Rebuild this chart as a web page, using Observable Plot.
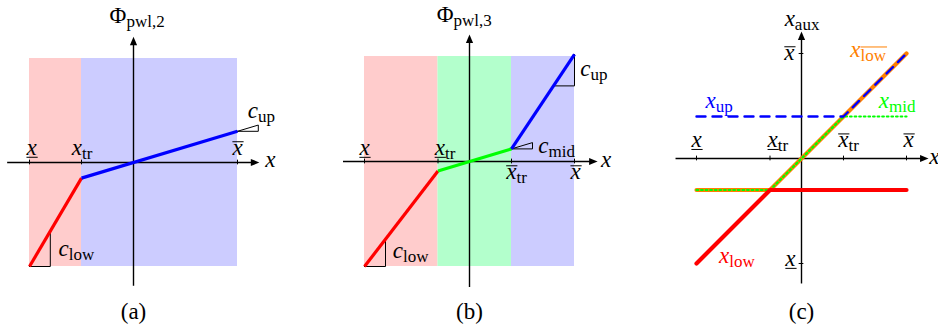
<!DOCTYPE html>
<html>
<head>
<meta charset="utf-8">
<script src="https://cdn.jsdelivr.net/npm/d3@7"></script>
<script src="https://cdn.jsdelivr.net/npm/@observablehq/plot@0.6"></script>
<style>
  body { margin: 0; background: #fff; overflow: hidden; }
  #fig { position: relative; width: 938px; height: 324px; }
  #fig svg { position: absolute; top: 0; overflow: visible; }
  #fig svg, #fig svg text, #fig svg tspan { font-family: "Liberation Serif", serif !important; }
</style>
</head>
<body>
<div id="fig"></div>
<script>
// ---------- data ----------
// (a) two-piece linearisation Φ_pwl,2: knots x̲, x_tr, x̄ and values there
const aKnots = [-2, -1, 2];
const aPhi = [-2, -0.3, 0.6];
const aColors = ["red", "blue"];
const aShade = ["#ffcccc", "#ccccff"];
const aTickLabels = ["x||under", "x|tr|", "x||over"];

// (b) three-piece linearisation Φ_pwl,3: knots x̲, x̲_tr, x̄_tr, x̄
const bKnots = [-2, -0.6, 0.8, 2];
const bPhi = [-2, -0.18, 0.24, 2.04];
const bColors = ["red", "#00ff00", "blue"];
const bShade = ["#ffcccc", "#b3ffcc", "#ccccff"];
const bTickLabels = ["x||under", "x|tr|under", "x|tr|over", "x||over"];

// (c) auxiliary variables evaluated at the knots of (b)
const cKnots = [-2, -0.6, 0.8, 2];
const cLow = [-2, -0.6, -0.6, -0.6];
const cLowBar = [-0.6, -0.6, 0.8, 2];
const cMid = [-0.6, -0.6, 0.8, 0.8];
const cUp = [0.8, 0.8, 0.8, 2];
const cTickLabels = ["x||under", "x|tr|under", "x|tr|over", "x||over"];
const cYTicks = [2, -2];
const cYTickLabels = ["x||over", "x||under"];

const box = [-2, 2]; // vertical extent of the shaded intervals
const run = 0.4;     // run of the slope triangles

// ---------- helpers ----------
const ns = "http://www.w3.org/2000/svg";
const FS = 23, SUB = 17;
const serif = "Liberation Serif";
const fig = document.getElementById("fig");

const headRight = {draw(c) { c.moveTo(0, 0); c.lineTo(-8.5, -3.6); c.lineTo(-8.5, 3.6); c.closePath(); }};
const headUp = {draw(c) { c.moveTo(0, 0); c.lineTo(-3.6, 8.5); c.lineTo(3.6, 8.5); c.closePath(); }};

const slope = (k, v, i) => (v[i + 1] - v[i]) / (k[i + 1] - k[i]);
const segments = (k, v, colors) => colors.map((c, i) => ({x1: k[i], y1: v[i], x2: k[i + 1], y2: v[i + 1], c}));
const shading = (k, colors) => colors.map((c, i) => ({x1: k[i], x2: k[i + 1], y1: box[0], y2: box[1], c}));
const triangle = (x0, y0, s, id) =>
  [[x0, y0], [x0 + run, y0], [x0 + run, y0 + run * s], [x0, y0]].map(([x, y]) => ({x, y, id}));
const series = (k, v) => k.map((x, i) => ({x, y: v[i]}));

function axes(xr, yr, u) {
  return [
    Plot.ruleY([0], {x1: xr[0], x2: xr[1] - 5 / u, stroke: "black", strokeWidth: 1.4}),
    Plot.ruleX([0], {y1: yr[0], y2: yr[1] - 5 / u, stroke: "black", strokeWidth: 1.4}),
    Plot.dot([0], {x: xr[1], y: 0, symbol: headRight, fill: "black", stroke: "none"}),
    Plot.dot([0], {x: 0, y: yr[1], symbol: headUp, fill: "black", stroke: "none"})
  ];
}
const xTicks = (k) => Plot.ruleX(k, {y1: -0.045, y2: 0.045, stroke: "black", strokeWidth: 1});
const labels = (rows) => Plot.text(rows, {x: "x", y: "y", text: "t", fill: "c", fontSize: FS, fontFamily: serif});

// "base|sub|deco" → italic base, upright subscript, under/overline
function typeset(svg) {
  svg.querySelectorAll("text").forEach((t) => {
    t.setAttribute("font-family", serif);
    const s = t.textContent;
    if (!s.includes("|")) return;
    const [base, sub, deco] = s.split("|");
    t.textContent = "";
    const tb = document.createElementNS(ns, "tspan");
    tb.textContent = base;
    tb.setAttribute("font-style", base === "Φ" ? "normal" : "italic");
    t.appendChild(tb);
    if (sub) {
      const ts = document.createElementNS(ns, "tspan");
      ts.textContent = sub;
      ts.setAttribute("font-style", "normal");
      ts.setAttribute("font-size", SUB);
      ts.setAttribute("dy", 4);
      t.appendChild(ts);
    }
    if (!deco) return;
    const n = base.length;
    const [i0, i1] = deco === "oversub" ? [n, n + sub.length - 1] : [0, n - 1];
    const p0 = t.getStartPositionOfChar(i0), p1 = t.getEndPositionOfChar(i1);
    const y = deco === "under" ? p0.y + 2.5 : deco === "over" ? p0.y - 0.48 * FS - 2 : p0.y - 0.7 * SUB - 2;
    const line = document.createElementNS(ns, "line");
    line.setAttribute("x1", p0.x);
    line.setAttribute("x2", p1.x + 1);
    line.setAttribute("y1", y);
    line.setAttribute("y2", y);
    line.setAttribute("stroke", getComputedStyle(t).fill);
    line.setAttribute("stroke-width", 1);
    const tr = t.getAttribute("transform");
    if (tr) line.setAttribute("transform", tr);
    t.parentNode.appendChild(line);
  });
}

function panel({left, width, cx, cy, u, marks}) {
  const svg = Plot.plot({
    width, height: 324, margin: 0,
    x: {domain: [-cx / u, (width - cx) / u], range: [0, width], axis: null},
    y: {domain: [cy / u, (cy - 324) / u], range: [0, 324], axis: null},
    color: {type: "identity"},
    style: {background: "transparent", overflow: "visible", fontFamily: serif},
    marks
  });
  svg.style.left = left + "px";
  fig.appendChild(svg);
  typeset(svg);
}

// ---------- (a) ----------
{
  const sLow = slope(aKnots, aPhi, 0), sUp = slope(aKnots, aPhi, 1);
  const tris = [...triangle(aKnots[0], aPhi[0], sLow, "low"), ...triangle(aKnots[2], aPhi[2], sUp, "up")];
  const tickY = 0.29;
  panel({
    left: 0, width: 310, cx: 133, cy: 162, u: 52,
    marks: [
      Plot.rect(shading(aKnots, aShade), {x1: "x1", x2: "x2", y1: "y1", y2: "y2", fill: "c"}),
      ...axes([-2.42, 2.42], [-2.38, 2.42], 52),
      xTicks(aKnots),
      Plot.line(tris, {x: "x", y: "y", z: "id", stroke: "black", strokeWidth: 1}),
      Plot.link(segments(aKnots, aPhi, aColors), {x1: "x1", y1: "y1", x2: "x2", y2: "y2", stroke: "c", strokeWidth: 3.2}),
      labels([
        {x: aKnots[0] + 0.04, y: tickY, t: aTickLabels[0], c: "black"},
        {x: aKnots[1] + 0.01, y: tickY, t: aTickLabels[1], c: "black"},
        {x: aKnots[2], y: tickY, t: aTickLabels[2], c: "black"},
        {x: 2.63, y: 0.05, t: "x||", c: "black"},
        {x: 0.07, y: 2.83, t: "Φ|pwl,2|", c: "black"},
        {x: 2.46, y: 1.0, t: "c|up|", c: "black"},
        {x: -1.1, y: -1.65, t: "c|low|", c: "black"},
        {x: 0, y: -2.875, t: "(a)", c: "black"}
      ])
    ]
  });
}

// ---------- (b) ----------
{
  const s = [0, 1, 2].map((i) => slope(bKnots, bPhi, i));
  const tris = [
    ...triangle(bKnots[0], bPhi[0], s[0], "low"),
    ...triangle(bKnots[2], bPhi[2], s[1], "mid"),
    ...triangle(bKnots[3] - run, bPhi[3] - run * s[2], s[2], "up")
  ];
  panel({
    left: 310, width: 310, cx: 159, cy: 161, u: 52.5,
    marks: [
      Plot.rect(shading(bKnots, bShade), {x1: "x1", x2: "x2", y1: "y1", y2: "y2", fill: "c"}),
      ...axes([-2.4, 2.44], [-2.4, 2.42], 52.5),
      xTicks(bKnots),
      Plot.line(tris, {x: "x", y: "y", z: "id", stroke: "black", strokeWidth: 1}),
      Plot.link(segments(bKnots, bPhi, bColors), {x1: "x1", y1: "y1", x2: "x2", y2: "y2", stroke: "c", strokeWidth: 3.2}),
      labels([
        {x: bKnots[0], y: 0.267, t: bTickLabels[0], c: "black"},
        {x: bKnots[1] + 0.133, y: 0.267, t: bTickLabels[1], c: "black"},
        {x: bKnots[2] + 0.095, y: -0.19, t: bTickLabels[2], c: "black"},
        {x: bKnots[3] + 0.02, y: -0.19, t: bTickLabels[3], c: "black"},
        {x: 2.6, y: 0.04, t: "x||", c: "black"},
        {x: -0.1, y: 2.8, t: "Φ|pwl,3|", c: "black"},
        {x: 1.66, y: 0.305, t: "c|mid|", c: "black"},
        {x: 2.37, y: 1.76, t: "c|up|", c: "black"},
        {x: -1.12, y: -1.705, t: "c|low|", c: "black"},
        {x: 0, y: -2.867, t: "(b)", c: "black"}
      ])
    ]
  });
}

// ---------- (c) ----------
{
  const tickY = 0.36;
  panel({
    left: 620, width: 318, cx: 181, cy: 158, u: 52.5,
    marks: [
      ...axes([-2.39, 2.42], [-2.39, 2.42], 52.5),
      xTicks(cKnots),
      Plot.ruleY(cYTicks, {x1: -0.045, x2: 0.045, stroke: "black", strokeWidth: 1}),
      Plot.line(series(cKnots, cLowBar), {x: "x", y: "y", stroke: "#ff8000", strokeWidth: 4.2}),
      Plot.line(series(cKnots, cMid), {x: "x", y: "y", stroke: "#00ff00", strokeWidth: 2.2, strokeDasharray: "1.6,3"}),
      Plot.line(series(cKnots, cLow), {x: "x", y: "y", stroke: "red", strokeWidth: 4.2}),
      Plot.line(series(cKnots, cUp), {x: "x", y: "y", stroke: "blue", strokeWidth: 2.4, strokeDasharray: "9,7"}),
      labels([
        {x: cKnots[0], y: tickY, t: cTickLabels[0], c: "black"},
        {x: cKnots[1] + 0.15, y: tickY, t: cTickLabels[1], c: "black"},
        {x: cKnots[2] + 0.095, y: tickY, t: cTickLabels[2], c: "black"},
        {x: cKnots[3] + 0.04, y: tickY, t: cTickLabels[3], c: "black"},
        {x: -0.23, y: cYTicks[0] + 0.02, t: cYTickLabels[0], c: "black"},
        {x: -0.21, y: cYTicks[1] + 0.095, t: cYTickLabels[1], c: "black"},
        {x: 2.53, y: 0.04, t: "x||", c: "black"},
        {x: 0.01, y: 2.67, t: "x|aux|", c: "black"},
        {x: -1.57, y: 1.105, t: "x|up|", c: "blue"},
        {x: 1.82, y: 1.095, t: "x|mid|", c: "#00ff00"},
        {x: 1.27, y: 2.076, t: "x|low|oversub", c: "#ff8000"},
        {x: -1.23, y: -1.857, t: "x|low|", c: "red"},
        {x: 0, y: -2.924, t: "(c)", c: "black"}
      ])
    ]
  });
}
</script>
</body>
</html>
